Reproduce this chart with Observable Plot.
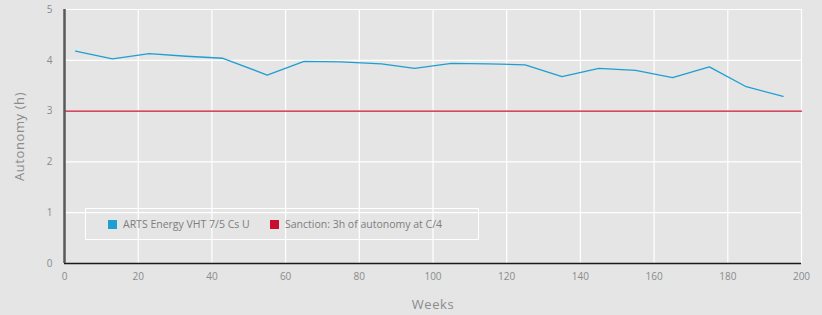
<!DOCTYPE html>
<html>
<head>
<meta charset="utf-8">
<script src="https://cdn.jsdelivr.net/npm/d3@7"></script>
<script src="https://cdn.jsdelivr.net/npm/@observablehq/plot@0.6"></script>
<style>
  html, body { margin: 0; padding: 0; background: #e4e5e4; }
  #wrap { position: relative; width: 822px; height: 315px; font-family: "Open Sans", sans-serif; }
  #legend { position: absolute; left: 85px; top: 208px; width: 394px; height: 32px; border: 1.5px solid #ffffff; box-sizing: border-box; font-size: 10.5px; color: #7d7e80; }
  .item { position: absolute; top: 8px; display: flex; align-items: center; white-space: nowrap; }
  .sw { width: 9px; height: 9px; display: inline-block; margin-right: 6px; }
</style>
</head>
<body>
<div id="wrap"></div>
<script>
const weeks = [3, 13, 23, 33, 43, 55, 65, 75, 86, 95, 105, 115, 125, 135, 145, 155, 165, 175, 185, 195];
const autonomy = [4.18, 4.03, 4.13, 4.08, 4.04, 3.71, 3.98, 3.97, 3.93, 3.84, 3.94, 3.93, 3.91, 3.68, 3.84, 3.80, 3.66, 3.87, 3.48, 3.29];
const sanctionWeeks = [0, 200];
const sanctionValue = 3;
const xTicks = [0, 20, 40, 60, 80, 100, 120, 140, 160, 180, 200];
const yTicks = [0, 1, 2, 3, 4, 5];
const seriesNames = ["ARTS Energy VHT 7/5 Cs U", "Sanction: 3h of autonomy at C/4"];
const colors = ["#1e9fd2", "#c8102e"];

const data = weeks.map((w, i) => ({week: w, value: autonomy[i]}));
const sanction = sanctionWeeks.map(w => ({week: w, value: sanctionValue}));

const chart = Plot.plot({
  width: 822,
  height: 315,
  marginLeft: 64,
  marginRight: 21,
  marginTop: 9,
  marginBottom: 52,
  style: {background: "#e4e5e4", fontFamily: "Open Sans, sans-serif", fontSize: "10px", color: "#8a8b8d", overflow: "visible"},
  x: {domain: [0, 200]},
  y: {domain: [0, 5]},
  marks: [
    Plot.gridX(xTicks, {stroke: "#ffffff", strokeOpacity: 1, strokeWidth: 1.2}),
    Plot.gridY(yTicks, {stroke: "#ffffff", strokeOpacity: 1, strokeWidth: 1.2}),
    Plot.axisX(xTicks, {tickSize: 0, tickPadding: 9, tickFormat: "d", label: "Weeks", labelAnchor: "center", labelArrow: "none", labelOffset: 45, fill: "#8a8b8d"}),
    Plot.axisY(yTicks, {tickSize: 0, tickPadding: 12, tickFormat: "d", label: "Autonomy (h)", labelAnchor: "center", labelArrow: "none", labelOffset: 50, fill: "#8a8b8d"}),
    Plot.line(sanction, {x: "week", y: "value", stroke: colors[1], strokeWidth: 1.3}),
    Plot.line(data, {x: "week", y: "value", stroke: colors[0], strokeWidth: 1.3}),
    Plot.ruleY([0], {stroke: "#1a1a1a", strokeWidth: 1.5}),
    Plot.ruleX([0], {stroke: "#58595b", strokeWidth: 2.5})
  ]
});
chart.querySelectorAll("[aria-label='x-axis label'] text, [aria-label='y-axis label'] text").forEach(t => {
  t.style.fontSize = "13px";
  t.style.letterSpacing = "0.6px";
});
const wrap = document.getElementById("wrap");
wrap.appendChild(chart);

const legend = document.createElement("div");
legend.id = "legend";
const lefts = [22, 184];
seriesNames.forEach((name, i) => {
  const item = document.createElement("div");
  item.className = "item";
  item.style.left = lefts[i] + "px";
  const sw = document.createElement("span");
  sw.className = "sw";
  sw.style.background = colors[i];
  const tx = document.createElement("span");
  tx.textContent = name;
  item.appendChild(sw);
  item.appendChild(tx);
  legend.appendChild(item);
});
wrap.appendChild(legend);
</script>
</body>
</html>
